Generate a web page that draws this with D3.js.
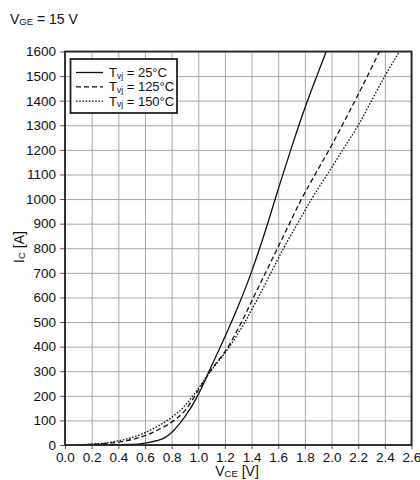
<!DOCTYPE html>
<html>
<head>
<meta charset="utf-8">
<script src="https://cdn.jsdelivr.net/npm/d3@7"></script>
<style>
  body { margin: 0; background: #fff; }
  svg { font-family: "Liberation Sans", Arial, sans-serif; }
</style>
</head>
<body>
<svg id="canvas"></svg>
<script>
// output characteristic, IC vs VCE at VGE = 15 V
let vce25 = [0.1, 0.3, 0.5, 0.6, 0.75, 0.9, 1.0, 1.1, 1.2, 1.3, 1.4, 1.5, 1.6, 1.7, 1.8, 1.9, 1.96]
let ic25 = [0, 0.5, 2, 8, 30, 115, 205, 322, 440, 565, 705, 865, 1040, 1210, 1370, 1515, 1600]

let vce125 = [0.1, 0.2, 0.3, 0.4, 0.5, 0.6, 0.7, 0.8, 0.9, 1.0, 1.09, 1.225, 1.325, 1.41, 1.5, 1.59, 1.68, 1.77, 1.885, 2.0, 2.09, 2.2, 2.36]
let ic125 = [0, 3, 6, 11, 22, 38, 62, 93, 140, 222, 300, 400, 500, 595, 695, 795, 895, 995, 1108, 1218, 1310, 1425, 1600]

let vce150 = [0.1, 0.2, 0.3, 0.4, 0.5, 0.6, 0.7, 0.8, 0.9, 1.0, 1.1, 1.235, 1.35, 1.45, 1.545, 1.64, 1.75, 1.85, 1.98, 2.09, 2.2, 2.3, 2.4, 2.51]
let ic150 = [0, 4, 8, 17, 30, 50, 78, 112, 160, 230, 305, 400, 500, 600, 700, 800, 905, 1000, 1110, 1205, 1300, 1400, 1500, 1600]

let seriesNames = ['25°C', '125°C', '150°C']
let xTicks = [0.0, 0.2, 0.4, 0.6, 0.8, 1.0, 1.2, 1.4, 1.6, 1.8, 2.0, 2.2, 2.4, 2.6]
let yTicks = [0, 100, 200, 300, 400, 500, 600, 700, 800, 900, 1000, 1100, 1200, 1300, 1400, 1500, 1600]

let width = 420
let height = 480
let plotLeft = 65, plotRight = 411.5, plotTop = 51.5, plotBottom = 445

let canvas = d3.select('#canvas')
    .attr('width', width)
    .attr('height', height)

let xScale = d3.scaleLinear().domain([0, 2.6]).range([plotLeft, plotRight])
let yScale = d3.scaleLinear().domain([0, 1600]).range([plotBottom, plotTop])

// grid
canvas.append('g')
    .attr('transform', 'translate(0,' + plotBottom + ')')
    .call(d3.axisBottom(xScale).tickValues(xTicks).tickSize(-(plotBottom - plotTop)).tickFormat(''))
    .call(g => g.select('.domain').remove())
    .selectAll('line').attr('stroke', '#a8a8a8').attr('stroke-width', 1)

canvas.append('g')
    .attr('transform', 'translate(' + plotLeft + ',0)')
    .call(d3.axisLeft(yScale).tickValues(yTicks).tickSize(-(plotRight - plotLeft)).tickFormat(''))
    .call(g => g.select('.domain').remove())
    .selectAll('line').attr('stroke', '#a8a8a8').attr('stroke-width', 1)

// axes with outside ticks
let xAxis = canvas.append('g')
    .attr('transform', 'translate(0,' + plotBottom + ')')
    .call(d3.axisBottom(xScale).tickValues(xTicks).tickSize(4).tickPadding(3).tickFormat(d3.format('.1f')))
xAxis.select('.domain').remove()
xAxis.selectAll('line').attr('stroke', '#555')
xAxis.selectAll('text').attr('font-size', 13.5).attr('fill', '#111').attr('font-family', '"Liberation Sans", Arial, sans-serif')

let yAxis = canvas.append('g')
    .attr('transform', 'translate(' + plotLeft + ',0)')
    .call(d3.axisLeft(yScale).tickValues(yTicks).tickSize(5).tickPadding(4).tickFormat(d3.format('d')))
yAxis.select('.domain').remove()
yAxis.selectAll('line').attr('stroke', '#555')
yAxis.selectAll('text').attr('font-size', 13.5).attr('fill', '#111').attr('font-family', '"Liberation Sans", Arial, sans-serif')

// curves
let dashes = ['none', '5,3', '1.6,1.6']
let series = [
    d3.zip(vce25, ic25),
    d3.zip(vce125, ic125),
    d3.zip(vce150, ic150)
]

let line = d3.line()
    .x(d => xScale(d[0]))
    .y(d => yScale(d[1]))
    .curve(d3.curveMonotoneX)

canvas.append('clipPath').attr('id', 'plot-clip')
    .append('rect')
    .attr('x', plotLeft).attr('y', plotTop)
    .attr('width', plotRight - plotLeft).attr('height', plotBottom - plotTop)

canvas.append('g')
    .attr('clip-path', 'url(#plot-clip)')
    .selectAll('path')
    .data(series)
    .enter()
    .append('path')
    .attr('d', line)
    .attr('fill', 'none')
    .attr('stroke', '#111')
    .attr('stroke-width', 1.3)
    .attr('stroke-dasharray', (d, i) => dashes[i])

// frame
canvas.append('rect')
    .attr('x', plotLeft).attr('y', plotTop)
    .attr('width', plotRight - plotLeft).attr('height', plotBottom - plotTop)
    .attr('fill', 'none')
    .attr('stroke', '#222')
    .attr('stroke-width', 1.8)

// legend
let legend = canvas.append('g')
legend.append('rect')
    .attr('x', 70.5).attr('y', 59)
    .attr('width', 106.5).attr('height', 54)
    .attr('fill', '#fff')
    .attr('stroke', '#222')
    .attr('stroke-width', 1.8)

seriesNames.forEach((name, i) => {
    let y = 72.5 + i * 14.3
    legend.append('line')
        .attr('x1', 76).attr('x2', 103)
        .attr('y1', y).attr('y2', y)
        .attr('stroke', '#111')
        .attr('stroke-width', 1.3)
        .attr('stroke-dasharray', dashes[i])
    let t = legend.append('text')
        .attr('x', 109).attr('y', y + 4.6)
        .attr('font-size', 13)
        .attr('fill', '#111')
    t.append('tspan').text('T')
    t.append('tspan').attr('font-size', 8.5).attr('dy', 1.5).text('vj')
    t.append('tspan').attr('dy', -1.5).text(' = ' + name)
})

// titles
let title = canvas.append('text')
    .attr('x', 10).attr('y', 24)
    .attr('font-size', 14)
    .attr('fill', '#111')
title.append('tspan').text('V')
title.append('tspan').attr('font-size', 9.5).attr('dy', 1).text('GE')
title.append('tspan').attr('dy', -1).text(' = 15 V')

let xLabel = canvas.append('text')
    .attr('x', 237).attr('y', 476)
    .attr('text-anchor', 'middle')
    .attr('font-size', 14)
    .attr('fill', '#111')
xLabel.append('tspan').text('V')
xLabel.append('tspan').attr('font-size', 9.5).attr('dy', 1).text('CE')
xLabel.append('tspan').attr('dy', -1).text(' [V]')

let yLabel = canvas.append('text')
    .attr('transform', 'translate(24,' + 247 + ') rotate(-90)')
    .attr('text-anchor', 'middle')
    .attr('font-size', 14)
    .attr('fill', '#111')
yLabel.append('tspan').text('I')
yLabel.append('tspan').attr('font-size', 9.5).attr('dy', 1).text('C')
yLabel.append('tspan').attr('dy', -1).text(' [A]')
</script>
</body>
</html>
